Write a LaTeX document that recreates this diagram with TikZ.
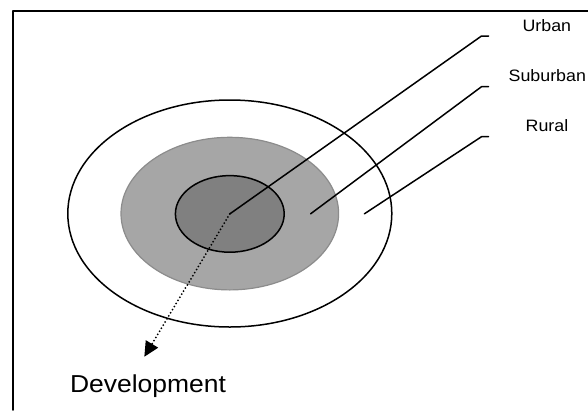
\documentclass[tikz,border=0pt]{standalone}
\usepackage{fontspec}
\setmainfont{Liberation Sans}[FakeStretch=1.08]
\usepackage{tikz}
\usetikzlibrary{shapes.geometric}
\usetikzlibrary{arrows.meta}
\definecolor{ringgray}{RGB}{166,166,166}
\definecolor{ringedge}{RGB}{140,140,140}
\definecolor{coregray}{RGB}{128,128,128}

\begin{document}
\begin{tikzpicture}[line cap=round,line join=round,x=1pt,y=-1pt, ring/.style={ellipse, draw, line width=1.5pt, inner sep=0pt}, lead/.style={line width=1.5pt}, lbl/.style={font=\fontsize{16.5}{18}\selectfont, anchor=base, inner sep=0pt}]
                        \useasboundingbox (0,0) rectangle (588,410);
                        \draw [line width=1.7pt] (588,11) -- (12.7,11) -- (12.7,410);

                        \node[ring, minimum width=324pt, minimum height=227pt] (rural) at (229.8,213.5) {};
                        \node[ring, draw=ringedge, line width=1.2pt, fill=ringgray, minimum width=217.6pt, minimum height=152.6pt] (suburban) at (229.8,213.6) {};
                        \node[ring, fill=coregray, minimum width=108.8pt, minimum height=76.6pt] (urban) at (229.8,213.9) {};

                        \node[lbl] (urbanlbl) at (546.8,31.7) {Urban};
                        \node[lbl] (suburbanlbl) at (547.3,81.7) {Suburban};
                        \node[lbl] (rurallbl) at (547,131.7) {Rural};

                        \coordinate (ub) at (481.5,36);
                        \coordinate (ue) at (488.5,36);
                        \coordinate (sp) at (310.6,213.8);
                        \coordinate (sb) at (481.5,86.7);
                        \coordinate (se) at (488.5,86.7);
                        \coordinate (rp) at (364.4,213.8);
                        \coordinate (rb) at (481.5,136.7);
                        \coordinate (re) at (488.5,136.7);

                        \draw [lead] (urban.center) -- (ub) -- (ue);
                        \draw [lead] (sp) -- (sb) -- (se);
                        \draw [lead] (rp) -- (rb) -- (re);

                        \coordinate (devtip) at (144.3,356.8);
                        \draw [line width=2pt, dash pattern=on 0pt off 3.6pt, -{Triangle[length=15pt,width=14pt]}] (urban.center) -- (devtip);
                        \node[font=\fontsize{24.5}{26}\selectfont, anchor=base west, inner sep=0pt] (dev) at (69.8,392) {Development};
                    \end{tikzpicture}
\end{document}
